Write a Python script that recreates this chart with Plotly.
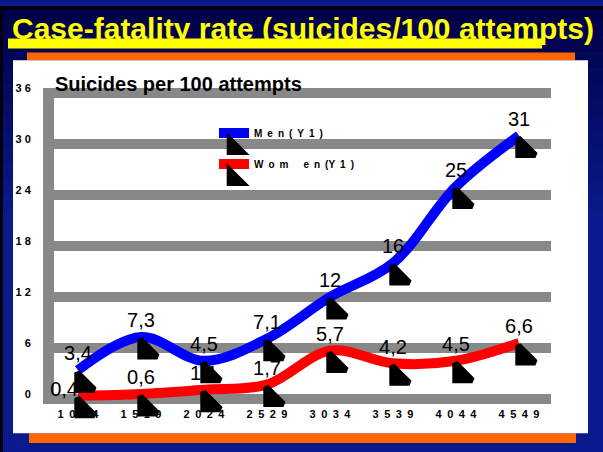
import plotly.graph_objects as go

# ---------------- data ----------------
categories = ["10-14", "15-19", "20-24", "25-29", "30-34", "35-39", "40-44", "45-49"]
x_tick_text = ["1\u20020\u20021\u20024", "1\u20025\u20021\u20029", "2\u20020\u20022\u20024",
               "2\u20025\u20022\u20029", "3\u20020\u20023\u20024", "3\u20025\u20023\u20029",
               "4\u20020\u20024\u20024", "4\u20025\u20024\u20029"]
men = [3.4, 7.3, 4.5, 7.1, 12, 16, 25, 31]
women = [0.4, 0.6, 1.1, 1.7, 5.7, 4.2, 4.5, 6.6]
men_text = ["3,4", "7,3", "4,5", "7,1", "12", "16", "25", "31"]
women_text = ["0,4", "0,6", "1,1", "1,7", "5,7", "4,2", "4,5", "6,6"]
y_tick_vals = [0, 6, 12, 18, 24, 30, 36]
y_tick_text = ["0", "6", "1 2", "1 8", "2 4", "3 0", "3 6"]
men_name = "M\u2002e\u2002n\u2002(\u2002Y\u20021\u2002)"
women_name = "W\u2002o\u2002m\u2002\u2002\u2002e\u2002n\u2002(Y\u20021\u2002)"

W, H = 603, 452
FONT = "Liberation Sans, Arial, sans-serif"


def dx(a, b):
    return [a / W, b / W]


def dy(top, bottom):
    return [(H - bottom) / H, (H - top) / H]


X_RANGE = [-0.381, 7.508]
Y_RANGE = [-0.6, 36.6]
# main plot box in px
PX_L, PX_R, PX_T, PX_B = 54, 551, 83.1, 403.5

fig = go.Figure()

# lines
fig.add_trace(go.Scatter(x=categories, y=men, mode="lines", name=men_name,
                         line=dict(color="#0000ff", width=10, shape="spline", smoothing=1),
                         legend="legend", legendgroup="m"))
fig.add_trace(go.Scatter(x=categories, y=women, mode="lines", name=women_name,
                         line=dict(color="#ff0000", width=10, shape="spline", smoothing=1),
                         legend="legend", legendgroup="w"))

# value labels (axis shifted upward)
fig.add_trace(go.Scatter(x=categories, y=men, mode="text", text=men_text,
                         textposition="middle center", showlegend=False,
                         textfont=dict(family=FONT, size=20, color="black"),
                         cliponaxis=False, xaxis="x2", yaxis="y2"))
fig.add_trace(go.Scatter(x=categories, y=women, mode="text", text=women_text,
                         textposition=["bottom left"] + ["middle center"] * 7, showlegend=False,
                         textfont=dict(family=FONT, size=20, color="black"),
                         cliponaxis=False, xaxis="x2", yaxis="y2"))

# markers (axis shifted down/right)
mk = dict(symbol="triangle-sw", size=19, color="black",
          line=dict(color="black", width=6))
fig.add_trace(go.Scatter(x=categories, y=men, mode="markers", name=" ", marker=mk,
                         cliponaxis=False, xaxis="x3", yaxis="y3",
                         legend="legend2", legendgroup="m2"))
fig.add_trace(go.Scatter(x=categories, y=women, mode="markers", name=" ", marker=mk,
                         cliponaxis=False, xaxis="x3", yaxis="y3",
                         legend="legend2", legendgroup="w2"))

hidden = dict(visible=False, fixedrange=True)

fig.update_layout(
    width=W, height=H,
    margin=dict(l=0, r=0, t=0, b=0),
    paper_bgcolor="#0a1a8c",
    plot_bgcolor="rgba(0,0,0,0)",
    showlegend=True,
    xaxis=dict(domain=dx(PX_L, PX_R), range=X_RANGE, type="category",
               categoryorder="array", categoryarray=categories,
               tickvals=categories, ticktext=x_tick_text,
               tickfont=dict(family=FONT, size=11, color="black", weight="bold"),
               showgrid=False, zeroline=False, showline=False, ticks="",
               ticklabelstandoff=2,
               anchor="y", layer="below traces"),
    yaxis=dict(domain=dy(PX_T, PX_B), range=Y_RANGE,
               tickvals=y_tick_vals, ticktext=y_tick_text,
               tickfont=dict(family=FONT, size=11, color="black", weight="bold"),
               showgrid=True, gridcolor="#888888", gridwidth=10,
               zeroline=False, showline=True, linecolor="#888888", linewidth=11,
               ticks="", ticklabelshift=-5, ticklabelstandoff=10,
               anchor="x", layer="below traces"),
    xaxis2=dict(domain=dx(PX_L, PX_R), range=X_RANGE, type="category",
                categoryorder="array", categoryarray=categories, anchor="y2", **hidden),
    yaxis2=dict(domain=dy(PX_T - 15, PX_B - 15), range=Y_RANGE, anchor="x2", **hidden),
    xaxis3=dict(domain=dx(PX_L + 5, PX_R + 5), range=X_RANGE, type="category",
                categoryorder="array", categoryarray=categories, anchor="y3", **hidden),
    yaxis3=dict(domain=dy(PX_T + 14, PX_B + 14), range=Y_RANGE, anchor="x3", **hidden),
    legend=dict(x=214 / W, y=1 - 114 / H, xanchor="left", yanchor="top",
                bgcolor="rgba(0,0,0,0)", tracegroupgap=12,
                font=dict(family=FONT, size=10, color="black", weight="bold")),
    legend2=dict(x=214 / W, y=1 - 129 / H, xanchor="left", yanchor="top",
                 bgcolor="rgba(0,0,0,0)", tracegroupgap=12,
                 font=dict(family=FONT, size=10, color="black")),
)

shapes = []
# background gradient (dark navy at top -> blue)
c0 = (0, 0, 0x46)
c1 = (0x0a, 0x1a, 0x8c)
nb = 14
for i in range(nb):
    t = i / (nb - 1)
    col = tuple(int(round(c0[k] + (c1[k] - c0[k]) * t)) for k in range(3))
    y0 = i * 16
    shapes.append(dict(type="rect", xref="paper", yref="paper", layer="below",
                       x0=0, x1=1, y0=1 - y0 / H, y1=1 - (y0 + 16) / H,
                       fillcolor="rgb(%d,%d,%d)" % col, line=dict(width=0)))
# dark border top/left
shapes.append(dict(type="rect", xref="paper", yref="paper", layer="below",
                   x0=0, x1=3 / W, y0=0, y1=1, fillcolor="#000010", line=dict(width=0)))
shapes.append(dict(type="rect", xref="paper", yref="paper", layer="below",
                   x0=0, x1=1, y0=1 - 4 / H, y1=1, fillcolor="#000010", line=dict(width=0)))
# yellow title band
shapes.append(dict(type="rect", xref="paper", yref="paper", layer="below",
                   x0=8 / W, x1=542 / W, y0=1 - 43 / H, y1=1 - 33 / H,
                   fillcolor="#ffff00", line=dict(width=0)))
# orange bars
shapes.append(dict(type="rect", xref="paper", yref="paper", layer="below",
                   x0=27 / W, x1=575 / W, y0=1 - 55 / H, y1=1 - 47 / H,
                   fillcolor="#ff6600", line=dict(width=0)))
shapes.append(dict(type="rect", xref="paper", yref="paper", layer="below",
                   x0=29 / W, x1=576 / W, y0=1 - 443 / H, y1=1 - 433 / H,
                   fillcolor="#ff6600", line=dict(width=0)))
# white panel
shapes.append(dict(type="rect", xref="paper", yref="paper", layer="below",
                   x0=13 / W, x1=588 / W, y0=1 - 433 / H, y1=1 - 55 / H,
                   fillcolor="white", line=dict(width=0)))
fig.update_layout(shapes=shapes)

fig.add_annotation(text="Case-fatality rate (suicides/100 attempts)",
                   xref="paper", yref="paper", x=10 / W, y=1 - 23 / H,
                   xanchor="left", yanchor="middle", showarrow=False,
                   font=dict(family=FONT, size=30, color="#ffff00", weight="bold"))
fig.add_annotation(text="Suicides per 100 attempts",
                   xref="paper", yref="paper", x=53 / W, y=1 - 79 / H,
                   xanchor="left", yanchor="middle", showarrow=False,
                   font=dict(family=FONT, size=20, color="black", weight="bold"))

fig.write_html("out.html", config={"displayModeBar": False},
               post_script="document.body.style.margin='0';document.body.style.overflow='hidden';")
